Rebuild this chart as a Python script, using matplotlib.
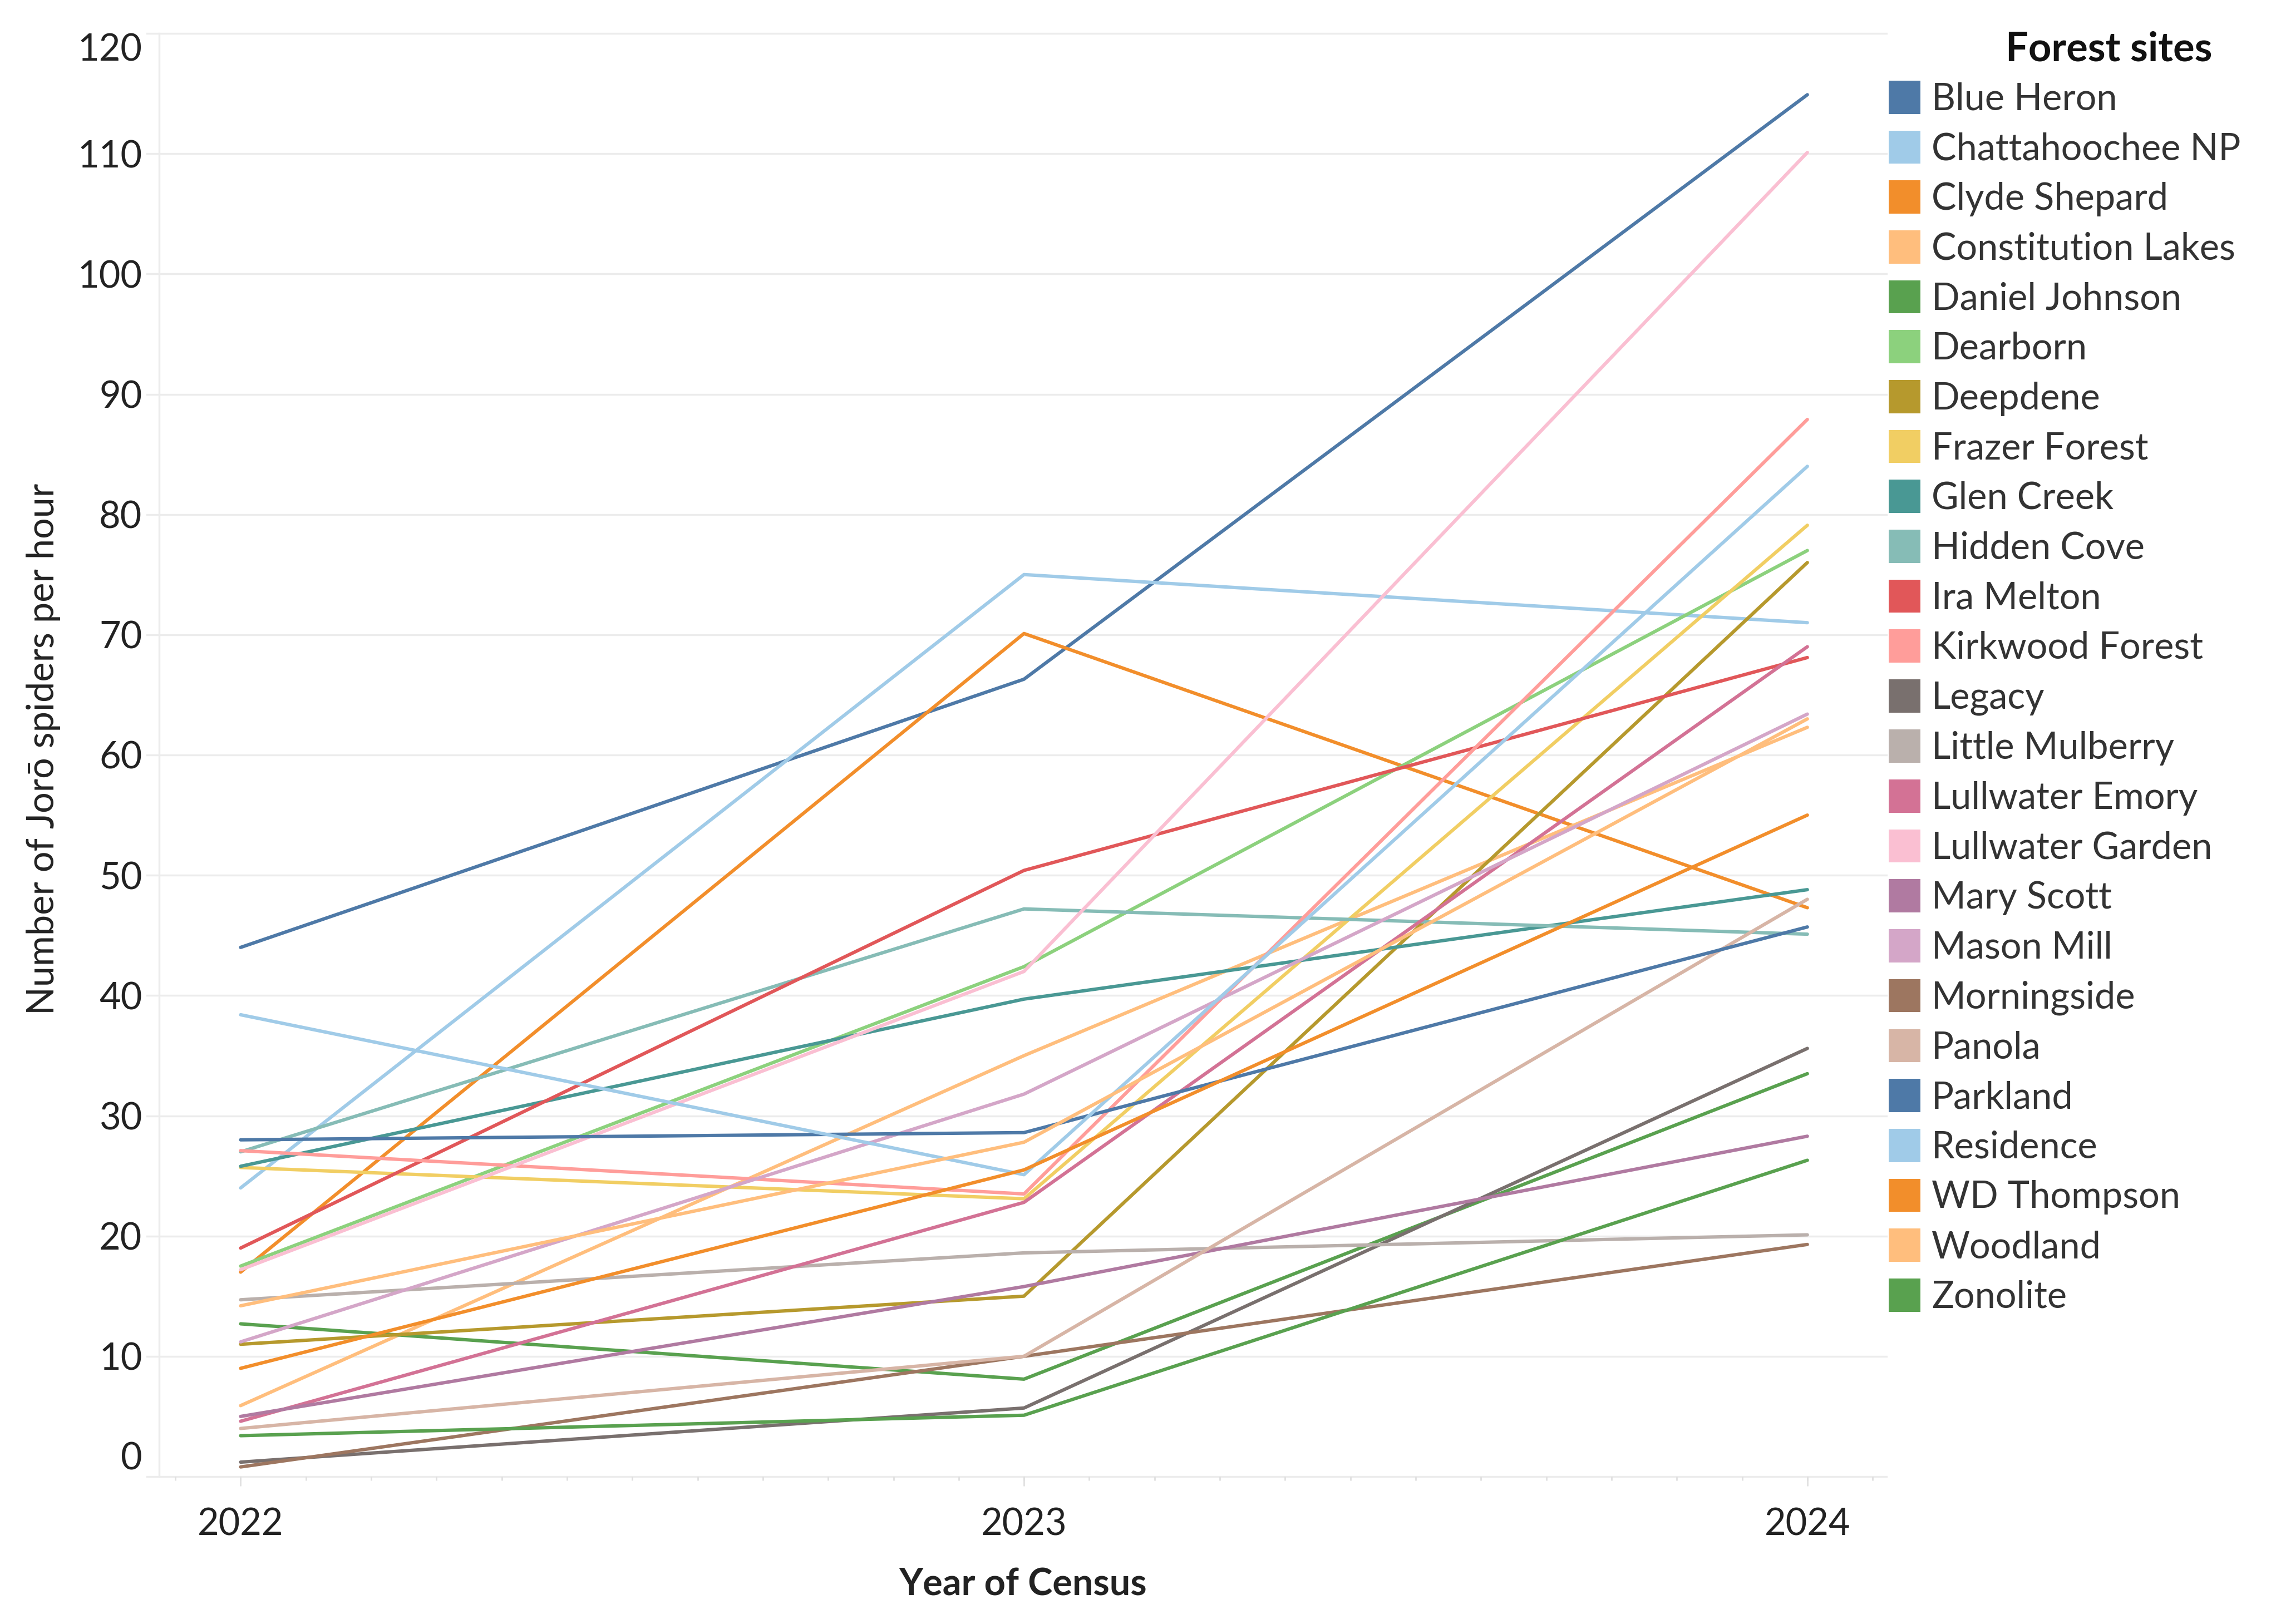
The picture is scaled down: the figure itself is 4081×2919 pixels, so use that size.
import matplotlib
matplotlib.use("Agg")
import matplotlib.pyplot as plt
from matplotlib.patches import Patch
import numpy as np

plt.rcParams['font.family'] = ['Lato', 'DejaVu Sans']

# ---------------------------------------------------------- data
years = [2022, 2023, 2024]

sites = ["Blue Heron", "Chattahoochee NP", "Clyde Shepard", "Constitution Lakes",
         "Daniel Johnson", "Dearborn", "Deepdene", "Frazer Forest", "Glen Creek",
         "Hidden Cove", "Ira Melton", "Kirkwood Forest", "Legacy", "Little Mulberry",
         "Lullwater Emory", "Lullwater Garden", "Mary Scott", "Mason Mill",
         "Morningside", "Panola", "Parkland", "Residence", "WD Thompson",
         "Woodland", "Zonolite"]

blue_heron = [44.0, 66.3, 114.9]
chattahoochee_np = [24.0, 75.0, 71.0]
clyde_shepard = [17.0, 70.1, 47.3]
constitution_lakes = [5.9, 35.0, 62.3]
daniel_johnson = [12.7, 8.1, 33.5]
dearborn = [17.5, 42.4, 77.0]
deepdene = [11.0, 15.0, 76.0]
frazer_forest = [25.7, 23.1, 79.1]
glen_creek = [25.8, 39.7, 48.8]
hidden_cove = [27.0, 47.2, 45.1]
ira_melton = [19.0, 50.4, 68.1]
kirkwood_forest = [27.1, 23.5, 87.9]
legacy = [1.2, 5.7, 35.6]
little_mulberry = [14.7, 18.6, 20.1]
lullwater_emory = [4.6, 22.8, 69.0]
lullwater_garden = [17.2, 42.0, 110.1]
mary_scott = [5.0, 15.8, 28.3]
mason_mill = [11.2, 31.8, 63.4]
morningside = [0.8, 10.0, 19.3]
panola = [4.0, 10.0, 48.0]
parkland = [28.0, 28.6, 45.7]
residence = [38.4, 25.1, 84.0]
wd_thompson = [9.0, 25.5, 55.0]
woodland = [14.2, 27.8, 63.0]
zonolite = [3.4, 5.1, 26.3]

values = [blue_heron, chattahoochee_np, clyde_shepard, constitution_lakes,
          daniel_johnson, dearborn, deepdene, frazer_forest, glen_creek,
          hidden_cove, ira_melton, kirkwood_forest, legacy, little_mulberry,
          lullwater_emory, lullwater_garden, mary_scott, mason_mill,
          morningside, panola, parkland, residence, wd_thompson,
          woodland, zonolite]

# tableau 20, repeats after 20 sites
tab20 = ["#4E79A7", "#A0CBE8", "#F28E2B", "#FFBE7D", "#59A14F", "#8CD17D",
         "#B6992D", "#F1CE63", "#499894", "#86BCB6", "#E15759", "#FF9D9A",
         "#79706E", "#BAB0AC", "#D37295", "#FABFD2", "#B07AA1", "#D4A6C8",
         "#9D7660", "#D7B5A6"]
colors = [tab20[i % 20] for i in range(len(sites))]

# ---------------------------------------------------------- figure
W, H = 4081, 2919
fig = plt.figure(figsize=(W / 200, H / 200), dpi=200)
ax = fig.add_axes([286 / W, 1 - 2654 / H, (3390 - 286) / W, (2654 - 60) / H])

for name, vals, c in zip(sites, values, colors):
    ax.plot(years, vals, color=c, lw=2.2, solid_capstyle='round')

ax.set_xlim(2021.896, 2024.101)
ax.set_ylim(0, 120)

# grid
grid_c = "#ececec"
for yv in range(0, 121, 10):
    ax.axhline(yv, xmin=-0.007, xmax=1, color=grid_c, lw=1.2, zorder=0, clip_on=False)

for s in ['top', 'right', 'bottom']:
    ax.spines[s].set_visible(False)
ax.spines['left'].set_color(grid_c)
ax.spines['left'].set_linewidth(1.2)

ax.set_yticks(range(0, 121, 10))
ax.tick_params(axis='y', length=0, pad=11, labelsize=24, labelcolor='#222222')
ax.set_xticks(years)
ax.set_xticklabels([str(y) for y in years])
ax.set_xticks(np.arange(2021.9167, 2024.1, 1 / 12), minor=True)
ax.tick_params(axis='x', which='major', length=6, width=1, color='#e0e0e0',
               pad=14, labelsize=24, labelcolor='#222222')
ax.tick_params(axis='x', which='minor', length=2.5, width=1, color='#e0e0e0')

# tableau keeps edge labels inside the pane
for lab in ax.get_yticklabels():
    if lab.get_text() == '120':
        lab.set_va('top')
    elif lab.get_text() == '0':
        lab.set_va('bottom')

ax.set_xlabel("Year of Census", fontsize=24, fontweight='bold', color='#222222')
ax.xaxis.set_label_coords(0.5, -0.0748)
ax.xaxis.label.set_va('center')
ax.set_ylabel("Number of Jorō spiders per hour", fontsize=24, color='#222222')
ax.yaxis.set_label_coords(-0.067, 0.504)
ax.yaxis.label.set_va('center')

# legend
handles = [Patch(facecolor=c, edgecolor='none') for c in colors]
leg = fig.legend(handles, sites, loc='upper left',
                 bbox_to_anchor=(3394 / W, 1 - 145 / H),
                 frameon=False, fontsize=24, handlelength=0.86, handleheight=1.0,
                 handletextpad=0.3, labelspacing=0.375, borderpad=0, borderaxespad=0)
for t in leg.get_texts():
    t.set_color('#333333')
fig.text(3790 / W, 1 - 89 / H, "Forest sites", fontsize=26, fontweight='bold',
         ha='center', va='center', color='#111111')

fig.savefig("out.png", dpi=200, facecolor='white')
